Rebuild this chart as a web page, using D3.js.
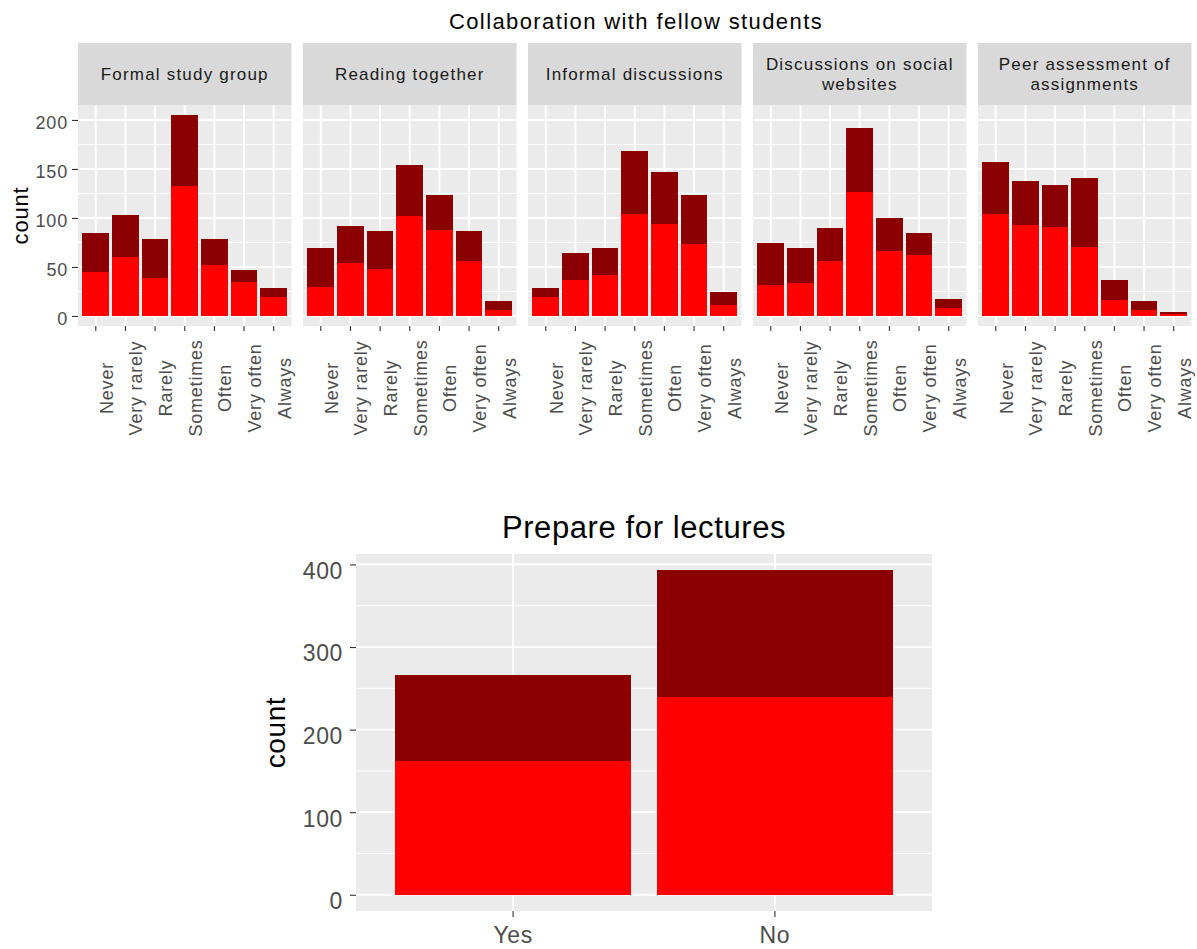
<!DOCTYPE html>
<html><head><meta charset="utf-8">
<script src="https://cdn.jsdelivr.net/npm/d3@7"></script>
<style>
body{margin:0;background:#fff}
svg{display:block}
text{font-family:"Liberation Sans",Arial,Helvetica,sans-serif}
</style>
</head><body>
<svg id="chart" width="1197" height="949"></svg>
<script>
// ---------- data ----------
const responses = ["Never","Very rarely","Rarely","Sometimes","Often","Very often","Always"];
const facetLabels = [
  ["Formal study group"],
  ["Reading together"],
  ["Informal discussions"],
  ["Discussions on social","websites"],
  ["Peer assessment of","assignments"]
];
// lower (red) and upper (dark red) counts per facet
const redFormal    = [45, 60, 39, 133, 52, 35, 19];
const darkFormal   = [40, 43, 40, 72, 27, 12, 10];
const redReading   = [30, 54, 48, 102, 88, 56, 6];
const darkReading  = [39, 38, 39, 52, 35, 31, 9];
const redInformal  = [19, 37, 42, 104, 94, 73, 11];
const darkInformal = [10, 27, 27, 64, 53, 50, 13];
const redSocial    = [32, 34, 56, 126, 66, 62, 8];
const darkSocial   = [42, 35, 34, 66, 34, 23, 9];
const redPeer      = [104, 93, 91, 70, 16, 6, 2];
const darkPeer     = [53, 45, 43, 71, 21, 9, 2];
const topTicks = [0, 50, 100, 150, 200];

const lectureCats = ["Yes","No"];
const redLecture  = [162, 240];
const darkLecture = [104, 153];
const bottomTicks = [0, 100, 200, 300, 400];

const redSets  = [redFormal, redReading, redInformal, redSocial, redPeer];
const darkSets = [darkFormal, darkReading, darkInformal, darkSocial, darkPeer];

// ---------- styles ----------
const C_RED = "#FF0000", C_DARK = "#8B0000";
const PANEL_BG = "#EBEBEB", STRIP_BG = "#D9D9D9";
const TICK_TXT = "#4D4D4D", TICK_LINE = "#333333";

const svg = d3.select("#chart");

function stackRows(cats, red, dark){
  const rows = cats.map((c,i)=>({cat:c, red:red[i], dark:dark[i]}));
  return d3.stack().keys(["red","dark"])(rows);
}

// ---------- top faceted chart ----------
const T = {left0:78, step:225, w:213.5, stripTop:43, panelTop:105, panelBot:326};
const allTotals = redSets.flatMap((r,k)=>r.map((v,i)=>v+darkSets[k][i]));
const tmax = d3.max(allTotals);
const yTop = d3.scaleLinear().domain([-0.05*tmax, 1.05*tmax]).range([T.panelBot, T.panelTop]);
const topMinor = d3.range(topTicks.length-1).map(i=>(topTicks[i]+topTicks[i+1])/2);

svg.append("text").attr("x", 636).attr("y", 29).attr("text-anchor","middle")
  .attr("font-size", 22).attr("letter-spacing", 1.4).attr("fill","#000")
  .text("Collaboration with fellow students");

facetLabels.forEach((lab, k)=>{
  const x0 = T.left0 + k*T.step;
  const g = svg.append("g").attr("transform", `translate(${x0},0)`);
  const x = d3.scaleBand().domain(responses).range([0, T.w]).paddingInner(0.1).paddingOuter(0.15);
  // strip
  g.append("rect").attr("x",0).attr("y",T.stripTop).attr("width",T.w).attr("height",T.panelTop-T.stripTop).attr("fill",STRIP_BG);
  const st = g.append("text").attr("text-anchor","middle").attr("font-size",17).attr("letter-spacing",1.2).attr("fill","#1A1A1A");
  const lh = 20;
  const cy = (T.stripTop+T.panelTop)/2;
  lab.forEach((line,li)=>{
    st.append("tspan").attr("x", T.w/2).attr("y", cy + 6 + (li - (lab.length-1)/2)*lh).text(line);
  });
  // panel
  g.append("rect").attr("x",0).attr("y",T.panelTop).attr("width",T.w).attr("height",T.panelBot-T.panelTop).attr("fill",PANEL_BG);
  g.selectAll(".minor").data(topMinor).join("line").attr("x1",0).attr("x2",T.w)
    .attr("y1",d=>yTop(d)).attr("y2",d=>yTop(d)).attr("stroke","#fff").attr("stroke-width",1);
  g.selectAll(".major").data(topTicks).join("line").attr("x1",0).attr("x2",T.w)
    .attr("y1",d=>yTop(d)).attr("y2",d=>yTop(d)).attr("stroke","#fff").attr("stroke-width",1.9);
  g.selectAll(".vmajor").data(responses).join("line")
    .attr("x1",d=>x(d)+x.bandwidth()/2).attr("x2",d=>x(d)+x.bandwidth()/2)
    .attr("y1",T.panelTop).attr("y2",T.panelBot).attr("stroke","#fff").attr("stroke-width",1.9);
  // bars
  const series = stackRows(responses, redSets[k], darkSets[k]);
  g.selectAll(".layer").data(series).join("g").attr("fill",(d,i)=>i===0?C_RED:C_DARK)
    .selectAll("rect").data(d=>d).join("rect")
    .attr("x",d=>x(d.data.cat)).attr("width",x.bandwidth())
    .attr("y",d=>yTop(d[1])).attr("height",d=>yTop(d[0])-yTop(d[1]))
    .attr("shape-rendering","crispEdges");
  // x axis
  const ax = g.append("g").attr("transform",`translate(0,${T.panelBot})`)
    .call(d3.axisBottom(x).tickSize(5).tickPadding(0));
  ax.select(".domain").remove();
  ax.selectAll(".tick line").attr("stroke",TICK_LINE).attr("stroke-width",1.1);
  ax.selectAll(".tick text")
    .attr("font-size",18).attr("letter-spacing",0.8).attr("fill",TICK_TXT)
    .attr("text-anchor","middle").attr("y",null).attr("dy",null)
    .attr("transform","translate(0,62) rotate(-90)")
    .attr("y",17);
  // y axis only on first panel
  if(k===0){
    const ay = g.append("g").call(d3.axisLeft(yTop).tickValues(topTicks).tickSize(6).tickPadding(4));
    ay.select(".domain").remove();
    ay.selectAll(".tick line").attr("stroke",TICK_LINE).attr("stroke-width",1.1);
    ay.selectAll(".tick text").attr("font-size",18).attr("letter-spacing",0.8).attr("fill",TICK_TXT).attr("dy","0.5em");
  }
});

svg.append("text").attr("transform",`translate(28,${(T.panelTop+T.panelBot)/2}) rotate(-90)`)
  .attr("text-anchor","middle").attr("font-size",22).attr("letter-spacing",0.8).attr("fill","#000").text("count");

// ---------- bottom chart ----------
const B = {left:356, right:932, top:554, bot:911};
const bTotals = redLecture.map((v,i)=>v+darkLecture[i]);
const bmax = d3.max(bTotals);
const yB = d3.scaleLinear().domain([-0.05*bmax, 1.05*bmax]).range([B.bot, B.top]);
const xB = d3.scaleBand().domain(lectureCats).range([B.left, B.right]).paddingInner(0.1).paddingOuter(0.15);
const bMinor = d3.range(bottomTicks.length-1).map(i=>(bottomTicks[i]+bottomTicks[i+1])/2);

svg.append("text").attr("x",(B.left+B.right)/2).attr("y",538).attr("text-anchor","middle")
  .attr("font-size",31).attr("letter-spacing",0.6).attr("fill","#000").text("Prepare for lectures");

const gb = svg.append("g");
gb.append("rect").attr("x",B.left).attr("y",B.top).attr("width",B.right-B.left).attr("height",B.bot-B.top).attr("fill",PANEL_BG);
gb.selectAll(".minor").data(bMinor).join("line").attr("x1",B.left).attr("x2",B.right)
  .attr("y1",d=>yB(d)).attr("y2",d=>yB(d)).attr("stroke","#fff").attr("stroke-width",1);
gb.selectAll(".major").data(bottomTicks).join("line").attr("x1",B.left).attr("x2",B.right)
  .attr("y1",d=>yB(d)).attr("y2",d=>yB(d)).attr("stroke","#fff").attr("stroke-width",1.8);
gb.selectAll(".vmajor").data(lectureCats).join("line")
  .attr("x1",d=>xB(d)+xB.bandwidth()/2).attr("x2",d=>xB(d)+xB.bandwidth()/2)
  .attr("y1",B.top).attr("y2",B.bot).attr("stroke","#fff").attr("stroke-width",1.8);
const bSeries = stackRows(lectureCats, redLecture, darkLecture);
gb.selectAll(".layer").data(bSeries).join("g").attr("fill",(d,i)=>i===0?C_RED:C_DARK)
  .selectAll("rect").data(d=>d).join("rect")
  .attr("x",d=>xB(d.data.cat)).attr("width",xB.bandwidth())
  .attr("y",d=>yB(d[1])).attr("height",d=>yB(d[0])-yB(d[1]))
  .attr("shape-rendering","crispEdges");
const axB = gb.append("g").attr("transform",`translate(0,${B.bot})`)
  .call(d3.axisBottom(xB).tickSize(6).tickPadding(5));
axB.select(".domain").remove();
axB.selectAll(".tick line").attr("stroke",TICK_LINE).attr("stroke-width",1.1);
axB.selectAll(".tick text").attr("font-size",23).attr("letter-spacing",0.6).attr("fill",TICK_TXT).attr("dy",null).attr("y",32);
const ayB = gb.append("g").attr("transform",`translate(${B.left},0)`)
  .call(d3.axisLeft(yB).tickValues(bottomTicks).tickSize(6).tickPadding(7));
ayB.select(".domain").remove();
ayB.selectAll(".tick line").attr("stroke",TICK_LINE).attr("stroke-width",1.1);
ayB.selectAll(".tick text").attr("font-size",23).attr("letter-spacing",0.6).attr("fill",TICK_TXT).attr("dy","0.6em");

svg.append("text").attr("transform",`translate(285,${(B.top+B.bot)/2}) rotate(-90)`)
  .attr("text-anchor","middle").attr("font-size",28).attr("letter-spacing",0.6).attr("fill","#000").text("count");
</script>
</body></html>
